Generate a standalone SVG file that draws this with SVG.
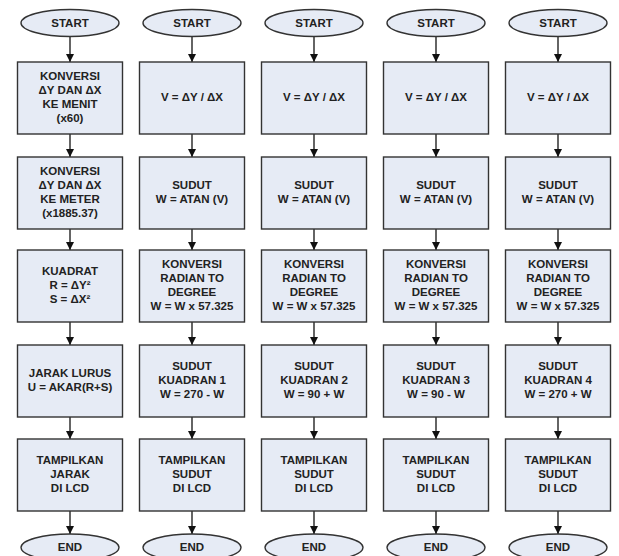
<svg xmlns="http://www.w3.org/2000/svg" width="619" height="556" viewBox="0 0 619 556">
<style>
.n{fill:#e6ebf5;stroke:#333;stroke-width:1.4}
.t{font-family:"Liberation Sans",Arial,sans-serif;font-weight:bold;font-size:11.5px;fill:#222;text-anchor:middle}
.c line{stroke:#111;stroke-width:1.3;marker-end:url(#ah)}
</style>
<defs>
<marker id="ah" viewBox="0 0 10 10" refX="10" refY="5" markerWidth="8" markerHeight="9" markerUnits="userSpaceOnUse" orient="auto"><path d="M0,0 L10,5 L0,10 z" fill="#111"/></marker>
</defs>
<rect width="619" height="556" fill="#fff"/>
<g id="connectors" class="c">
<line x1="70" y1="36.5" x2="70" y2="62"/><line x1="70" y1="134" x2="70" y2="157"/><line x1="70" y1="229" x2="70" y2="250"/><line x1="70" y1="322" x2="70" y2="345"/><line x1="70" y1="417" x2="70" y2="439"/><line x1="70" y1="511" x2="70" y2="534"/>
<line x1="192" y1="36.5" x2="192" y2="62"/><line x1="192" y1="134" x2="192" y2="157"/><line x1="192" y1="229" x2="192" y2="250"/><line x1="192" y1="322" x2="192" y2="345"/><line x1="192" y1="417" x2="192" y2="439"/><line x1="192" y1="511" x2="192" y2="534"/>
<line x1="314" y1="36.5" x2="314" y2="62"/><line x1="314" y1="134" x2="314" y2="157"/><line x1="314" y1="229" x2="314" y2="250"/><line x1="314" y1="322" x2="314" y2="345"/><line x1="314" y1="417" x2="314" y2="439"/><line x1="314" y1="511" x2="314" y2="534"/>
<line x1="436" y1="36.5" x2="436" y2="62"/><line x1="436" y1="134" x2="436" y2="157"/><line x1="436" y1="229" x2="436" y2="250"/><line x1="436" y1="322" x2="436" y2="345"/><line x1="436" y1="417" x2="436" y2="439"/><line x1="436" y1="511" x2="436" y2="534"/>
<line x1="558" y1="36.5" x2="558" y2="62"/><line x1="558" y1="134" x2="558" y2="157"/><line x1="558" y1="229" x2="558" y2="250"/><line x1="558" y1="322" x2="558" y2="345"/><line x1="558" y1="417" x2="558" y2="439"/><line x1="558" y1="511" x2="558" y2="534"/>
</g>
<!-- column 1 -->
<g id="start1"><ellipse class="n" cx="70" cy="23" rx="49" ry="13.5"/><text class="t" x="70" y="27">START</text></g>
<g id="c1b1"><rect class="n" x="17.5" y="62" width="105" height="72"/><text class="t" x="70" y="79.5">KONVERSI</text><text class="t" x="70" y="93.5">ΔY DAN ΔX</text><text class="t" x="70" y="107.5">KE MENIT</text><text class="t" x="70" y="121.5">(x60)</text></g>
<g id="c1b2"><rect class="n" x="17.5" y="157" width="105" height="72"/><text class="t" x="70" y="174.5">KONVERSI</text><text class="t" x="70" y="188.5">ΔY DAN ΔX</text><text class="t" x="70" y="202.5">KE METER</text><text class="t" x="70" y="216.5">(x1885.37)</text></g>
<g id="c1b3"><rect class="n" x="17.5" y="250" width="105" height="72"/><text class="t" x="70" y="274.5">KUADRAT</text><text class="t" x="70" y="288.5">R = ΔY²</text><text class="t" x="70" y="302.5">S = ΔX²</text></g>
<g id="c1b4"><rect class="n" x="17.5" y="345" width="105" height="72"/><text class="t" x="70" y="376.5">JARAK LURUS</text><text class="t" x="70" y="390.5">U = AKAR(R+S)</text></g>
<g id="c1b5"><rect class="n" x="17.5" y="439" width="105" height="72"/><text class="t" x="70" y="463.5">TAMPILKAN</text><text class="t" x="70" y="477.5">JARAK</text><text class="t" x="70" y="491.5">DI LCD</text></g>
<g id="end1"><ellipse class="n" cx="70" cy="547.5" rx="49" ry="13.5"/><text class="t" x="70" y="551">END</text></g>
<!-- column 2 -->
<g id="start2"><ellipse class="n" cx="192" cy="23" rx="49" ry="13.5"/><text class="t" x="192" y="27">START</text></g>
<g id="c2b1"><rect class="n" x="139.5" y="62" width="105" height="72"/><text class="t" x="192" y="100.5">V = ΔY / ΔX</text></g>
<g id="c2b2"><rect class="n" x="139.5" y="157" width="105" height="72"/><text class="t" x="192" y="188.5">SUDUT</text><text class="t" x="192" y="202.5">W = ATAN (V)</text></g>
<g id="c2b3"><rect class="n" x="139.5" y="250" width="105" height="72"/><text class="t" x="192" y="267.5">KONVERSI</text><text class="t" x="192" y="281.5">RADIAN TO</text><text class="t" x="192" y="295.5">DEGREE</text><text class="t" x="192" y="309.5">W = W x 57.325</text></g>
<g id="c2b4"><rect class="n" x="139.5" y="345" width="105" height="72"/><text class="t" x="192" y="369.5">SUDUT</text><text class="t" x="192" y="383.5">KUADRAN 1</text><text class="t" x="192" y="397.5">W = 270 - W</text></g>
<g id="c2b5"><rect class="n" x="139.5" y="439" width="105" height="72"/><text class="t" x="192" y="463.5">TAMPILKAN</text><text class="t" x="192" y="477.5">SUDUT</text><text class="t" x="192" y="491.5">DI LCD</text></g>
<g id="end2"><ellipse class="n" cx="192" cy="547.5" rx="49" ry="13.5"/><text class="t" x="192" y="551">END</text></g>
<!-- column 3 -->
<g id="start3"><ellipse class="n" cx="314" cy="23" rx="49" ry="13.5"/><text class="t" x="314" y="27">START</text></g>
<g id="c3b1"><rect class="n" x="261.5" y="62" width="105" height="72"/><text class="t" x="314" y="100.5">V = ΔY / ΔX</text></g>
<g id="c3b2"><rect class="n" x="261.5" y="157" width="105" height="72"/><text class="t" x="314" y="188.5">SUDUT</text><text class="t" x="314" y="202.5">W = ATAN (V)</text></g>
<g id="c3b3"><rect class="n" x="261.5" y="250" width="105" height="72"/><text class="t" x="314" y="267.5">KONVERSI</text><text class="t" x="314" y="281.5">RADIAN TO</text><text class="t" x="314" y="295.5">DEGREE</text><text class="t" x="314" y="309.5">W = W x 57.325</text></g>
<g id="c3b4"><rect class="n" x="261.5" y="345" width="105" height="72"/><text class="t" x="314" y="369.5">SUDUT</text><text class="t" x="314" y="383.5">KUADRAN 2</text><text class="t" x="314" y="397.5">W = 90 + W</text></g>
<g id="c3b5"><rect class="n" x="261.5" y="439" width="105" height="72"/><text class="t" x="314" y="463.5">TAMPILKAN</text><text class="t" x="314" y="477.5">SUDUT</text><text class="t" x="314" y="491.5">DI LCD</text></g>
<g id="end3"><ellipse class="n" cx="314" cy="547.5" rx="49" ry="13.5"/><text class="t" x="314" y="551">END</text></g>
<!-- column 4 -->
<g id="start4"><ellipse class="n" cx="436" cy="23" rx="49" ry="13.5"/><text class="t" x="436" y="27">START</text></g>
<g id="c4b1"><rect class="n" x="383.5" y="62" width="105" height="72"/><text class="t" x="436" y="100.5">V = ΔY / ΔX</text></g>
<g id="c4b2"><rect class="n" x="383.5" y="157" width="105" height="72"/><text class="t" x="436" y="188.5">SUDUT</text><text class="t" x="436" y="202.5">W = ATAN (V)</text></g>
<g id="c4b3"><rect class="n" x="383.5" y="250" width="105" height="72"/><text class="t" x="436" y="267.5">KONVERSI</text><text class="t" x="436" y="281.5">RADIAN TO</text><text class="t" x="436" y="295.5">DEGREE</text><text class="t" x="436" y="309.5">W = W x 57.325</text></g>
<g id="c4b4"><rect class="n" x="383.5" y="345" width="105" height="72"/><text class="t" x="436" y="369.5">SUDUT</text><text class="t" x="436" y="383.5">KUADRAN 3</text><text class="t" x="436" y="397.5">W = 90 - W</text></g>
<g id="c4b5"><rect class="n" x="383.5" y="439" width="105" height="72"/><text class="t" x="436" y="463.5">TAMPILKAN</text><text class="t" x="436" y="477.5">SUDUT</text><text class="t" x="436" y="491.5">DI LCD</text></g>
<g id="end4"><ellipse class="n" cx="436" cy="547.5" rx="49" ry="13.5"/><text class="t" x="436" y="551">END</text></g>
<!-- column 5 -->
<g id="start5"><ellipse class="n" cx="558" cy="23" rx="49" ry="13.5"/><text class="t" x="558" y="27">START</text></g>
<g id="c5b1"><rect class="n" x="505.5" y="62" width="105" height="72"/><text class="t" x="558" y="100.5">V = ΔY / ΔX</text></g>
<g id="c5b2"><rect class="n" x="505.5" y="157" width="105" height="72"/><text class="t" x="558" y="188.5">SUDUT</text><text class="t" x="558" y="202.5">W = ATAN (V)</text></g>
<g id="c5b3"><rect class="n" x="505.5" y="250" width="105" height="72"/><text class="t" x="558" y="267.5">KONVERSI</text><text class="t" x="558" y="281.5">RADIAN TO</text><text class="t" x="558" y="295.5">DEGREE</text><text class="t" x="558" y="309.5">W = W x 57.325</text></g>
<g id="c5b4"><rect class="n" x="505.5" y="345" width="105" height="72"/><text class="t" x="558" y="369.5">SUDUT</text><text class="t" x="558" y="383.5">KUADRAN 4</text><text class="t" x="558" y="397.5">W = 270 + W</text></g>
<g id="c5b5"><rect class="n" x="505.5" y="439" width="105" height="72"/><text class="t" x="558" y="463.5">TAMPILKAN</text><text class="t" x="558" y="477.5">SUDUT</text><text class="t" x="558" y="491.5">DI LCD</text></g>
<g id="end5"><ellipse class="n" cx="558" cy="547.5" rx="49" ry="13.5"/><text class="t" x="558" y="551">END</text></g>
</svg>
